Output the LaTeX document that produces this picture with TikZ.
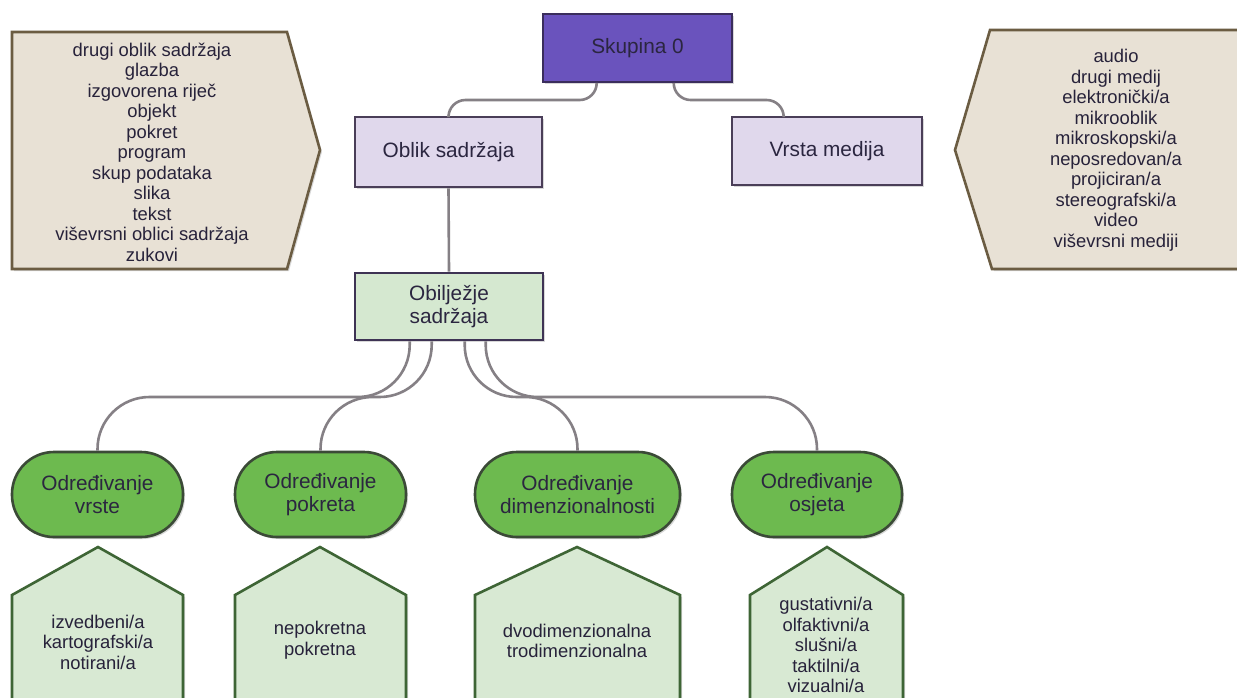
\documentclass[tikz,border=0pt]{standalone}
\usepackage{fontspec}
\setmainfont{Liberation Sans}
\usetikzlibrary{calc,shadows}
\definecolor{skfill}{HTML}{6A53BD}
\definecolor{skdraw}{HTML}{3A2D5C}
\definecolor{lavfill}{HTML}{E0D8EC}
\definecolor{lavdraw}{HTML}{4A3E58}
\definecolor{obfill}{HTML}{D5E8D0}
\definecolor{obdraw}{HTML}{3E3354}
\definecolor{ovfill}{HTML}{6DBA4F}
\definecolor{ovdraw}{HTML}{3B4A37}
\definecolor{pentfill}{HTML}{D8E9D3}
\definecolor{pentdraw}{HTML}{3E6535}
\definecolor{tanfill}{HTML}{E8E1D5}
\definecolor{tandraw}{HTML}{6B5C42}
\definecolor{connc}{HTML}{858085}
\definecolor{textc}{HTML}{2B2640}
\begin{document}
\begin{tikzpicture}[x=0.5pt,y=-0.5pt,
  shad/.style={drop shadow={shadow xshift=1pt,shadow yshift=-1pt,opacity=0.25,fill=black!60}},
  nodetext/.style={font=\fontsize{10.4}{11.7}\selectfont, text=textc, align=center, inner sep=0pt},
  listtext/.style={font=\fontsize{9.2}{10.25}\selectfont, text=textc!90!black, align=center, inner sep=0pt},
  topbox/.style={nodetext, shad, draw=skdraw, fill=skfill, line width=1.3pt},
  lavbox/.style={nodetext, shad, draw=lavdraw, fill=lavfill, line width=1.3pt},
  obbox/.style={nodetext, shad, draw=obdraw, fill=obfill, line width=1.3pt},
  ovalbox/.style={nodetext, shad, draw=ovdraw, fill=ovfill, line width=1.3pt, rounded corners=21pt},
  pentshape/.style={shad, draw=pentdraw, fill=pentfill, line width=1.3pt},
  tanshape/.style={shad, draw=tandraw, fill=tanfill, line width=1.3pt},
  conn/.style={draw=connc, line width=1.3pt}]
\clip (0,0) rectangle (1237,697);
\fill[white] (0,0) rectangle (1237,697);

% side lists
\path[tanshape] (12,32) -- (287,32) -- (320,150) -- (287,269) -- (12,269) -- cycle;
\node[listtext] (lstl) at (152,152) {drugi oblik sadržaja\\glazba\\izgovorena riječ\\objekt\\pokret\\program\\skup podataka\\slika\\tekst\\viševrsni oblici sadržaja\\zukovi};
\path[tanshape] (990,30) -- (1260,30) -- (1260,269) -- (992,269) -- (955,150) -- cycle;
\node[listtext] (lstr) at (1116,150) {audio\\drugi medij\\elektronički/a\\mikrooblik\\mikroskopski/a\\neposredovan/a\\projiciran/a\\stereografski/a\\video\\viševrsni mediji};

% main boxes
\node[topbox, minimum width=94.5pt, minimum height=34pt] (sk) at (637.5,48) {Skupina 0};
\node[lavbox, minimum width=93.5pt, minimum height=35pt] (ob) at (448.5,152) {Oblik sadržaja};
\node[lavbox, minimum width=95pt, minimum height=34pt] (vr) at (827,151) {Vrsta medija};
\node[obbox, minimum width=94pt, minimum height=33.5pt] (obl) at (449,306.5) {Obilježje\\sadržaja};

% ovals
\node[ovalbox, minimum width=85.5pt, minimum height=42.5pt] (o1) at (97.5,494.5) {Određivanje\\vrste};
\node[ovalbox, minimum width=85.5pt, minimum height=42.5pt] (o2) at (320.5,494.5) {Određivanje\\pokreta};
\node[ovalbox, minimum width=102.5pt, minimum height=42.5pt] (o3) at (577.5,494.5) {Određivanje\\dimenzionalnosti};
\node[ovalbox, minimum width=85pt, minimum height=42.5pt] (o4) at (817,494.5) {Određivanje\\osjeta};

% pentagons
\path[pentshape] (12,720) -- (12,595) -- (98,547) -- (183,595) -- (183,720) -- cycle;
\node[listtext] (p1) at (98,642) {izvedbeni/a\\kartografski/a\\notirani/a};
\path[pentshape] (235,720) -- (235,595) -- (320,547) -- (406,595) -- (406,720) -- cycle;
\node[listtext] (p2) at (320,640) {nepokretna\\pokretna};
\path[pentshape] (475,720) -- (475,595) -- (577,547) -- (680,595) -- (680,720) -- cycle;
\node[listtext] (p3) at (577,641) {dvodimenzionalna\\trodimenzionalna};
\path[pentshape] (750,720) -- (750,595) -- (827,547) -- (903,595) -- (903,720) -- cycle;
\node[listtext] (p4) at (826,645) {gustativni/a\\olfaktivni/a\\slušni/a\\taktilni/a\\vizualni/a};

% connectors
\coordinate (mt) at (0,100);
\coordinate (mb) at (0,397);
\coordinate (s1) at ($(sk.south west)+(55,0)$);
\coordinate (s2) at ($(sk.south west)+(132,0)$);
\coordinate (e2) at ($(vr.north west)+(53,0)$);
\draw[conn, rounded corners=8.5pt] (s1) -- (s1 |- mt) -- (ob.north |- mt) -- (ob.north);
\draw[conn, rounded corners=8.5pt] (s2) -- (s2 |- mt) -- (e2 |- mt) -- (e2);
\draw[conn] (ob.south) -- (obl.north);
\coordinate (b1) at ($(obl.south west)+(56,0)$);
\coordinate (b2) at ($(obl.south west)+(78,0)$);
\coordinate (b3) at ($(obl.south west)+(111,0)$);
\coordinate (b4) at ($(obl.south west)+(132,0)$);
\draw[conn, rounded corners=26pt] (b1) -- (b1 |- mb) -- (o1.north |- mb) -- (o1.north);
\draw[conn, rounded corners=26pt] (b2) -- (b2 |- mb) -- (o2.north |- mb) -- (o2.north);
\draw[conn, rounded corners=26pt] (b3) -- (b3 |- mb) -- (o3.north |- mb) -- (o3.north);
\draw[conn, rounded corners=26pt] (b4) -- (b4 |- mb) -- (o4.north |- mb) -- (o4.north);
\end{tikzpicture}
\end{document}
